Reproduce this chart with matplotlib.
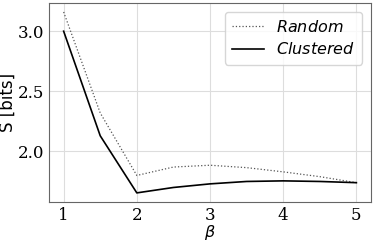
import matplotlib
matplotlib.use("Agg")
import matplotlib.pyplot as plt

beta = [1, 1.5, 2, 2.5, 3, 3.5, 4, 4.5, 5]
random_s = [3.16, 2.32, 1.80, 1.87, 1.885, 1.865, 1.83, 1.79, 1.74]
clustered_s = [3.00, 2.13, 1.655, 1.70, 1.73, 1.75, 1.755, 1.75, 1.74]

plt.rcParams['mathtext.fontset'] = 'dejavusans'

fig = plt.figure(figsize=(3.74, 2.43), dpi=100)
ax = fig.add_axes([0.131, 0.169, 0.861, 0.819])

ax.plot(beta, random_s, color='#555555', linestyle=':', linewidth=0.9, label='$Random$')
ax.plot(beta, clustered_s, color='black', linewidth=1.2, label='$Clustered$')

ax.grid(True, color='#dddddd', linewidth=0.8)
ax.set_axisbelow(True)
for sp in ax.spines.values():
    sp.set_color('#666666')

ax.set_xticks([1, 2, 3, 4, 5])
ax.set_yticks([2.0, 2.5, 3.0])
ax.set_yticklabels(['2.0', '2.5', '3.0'])
for lab in ax.get_xticklabels() + ax.get_yticklabels():
    lab.set_fontfamily('DejaVu Serif')
    lab.set_fontsize(12)
ax.tick_params(length=0, pad=3.5)

ax.set_xlabel(r'$\beta$', fontsize=11.5)
ax.xaxis.set_label_coords(0.5, -0.105)
ax.set_ylabel('S [bits]', fontsize=12)
ax.yaxis.set_label_coords(-0.1, 0.5)

ax.legend(loc='upper right', bbox_to_anchor=(0.972, 0.955), borderaxespad=0,
          fontsize=11.5, framealpha=0.8, handlelength=2.0, handletextpad=0.75,
          borderpad=0.45, labelspacing=0.4)

fig.savefig('out.png', dpi=100)
